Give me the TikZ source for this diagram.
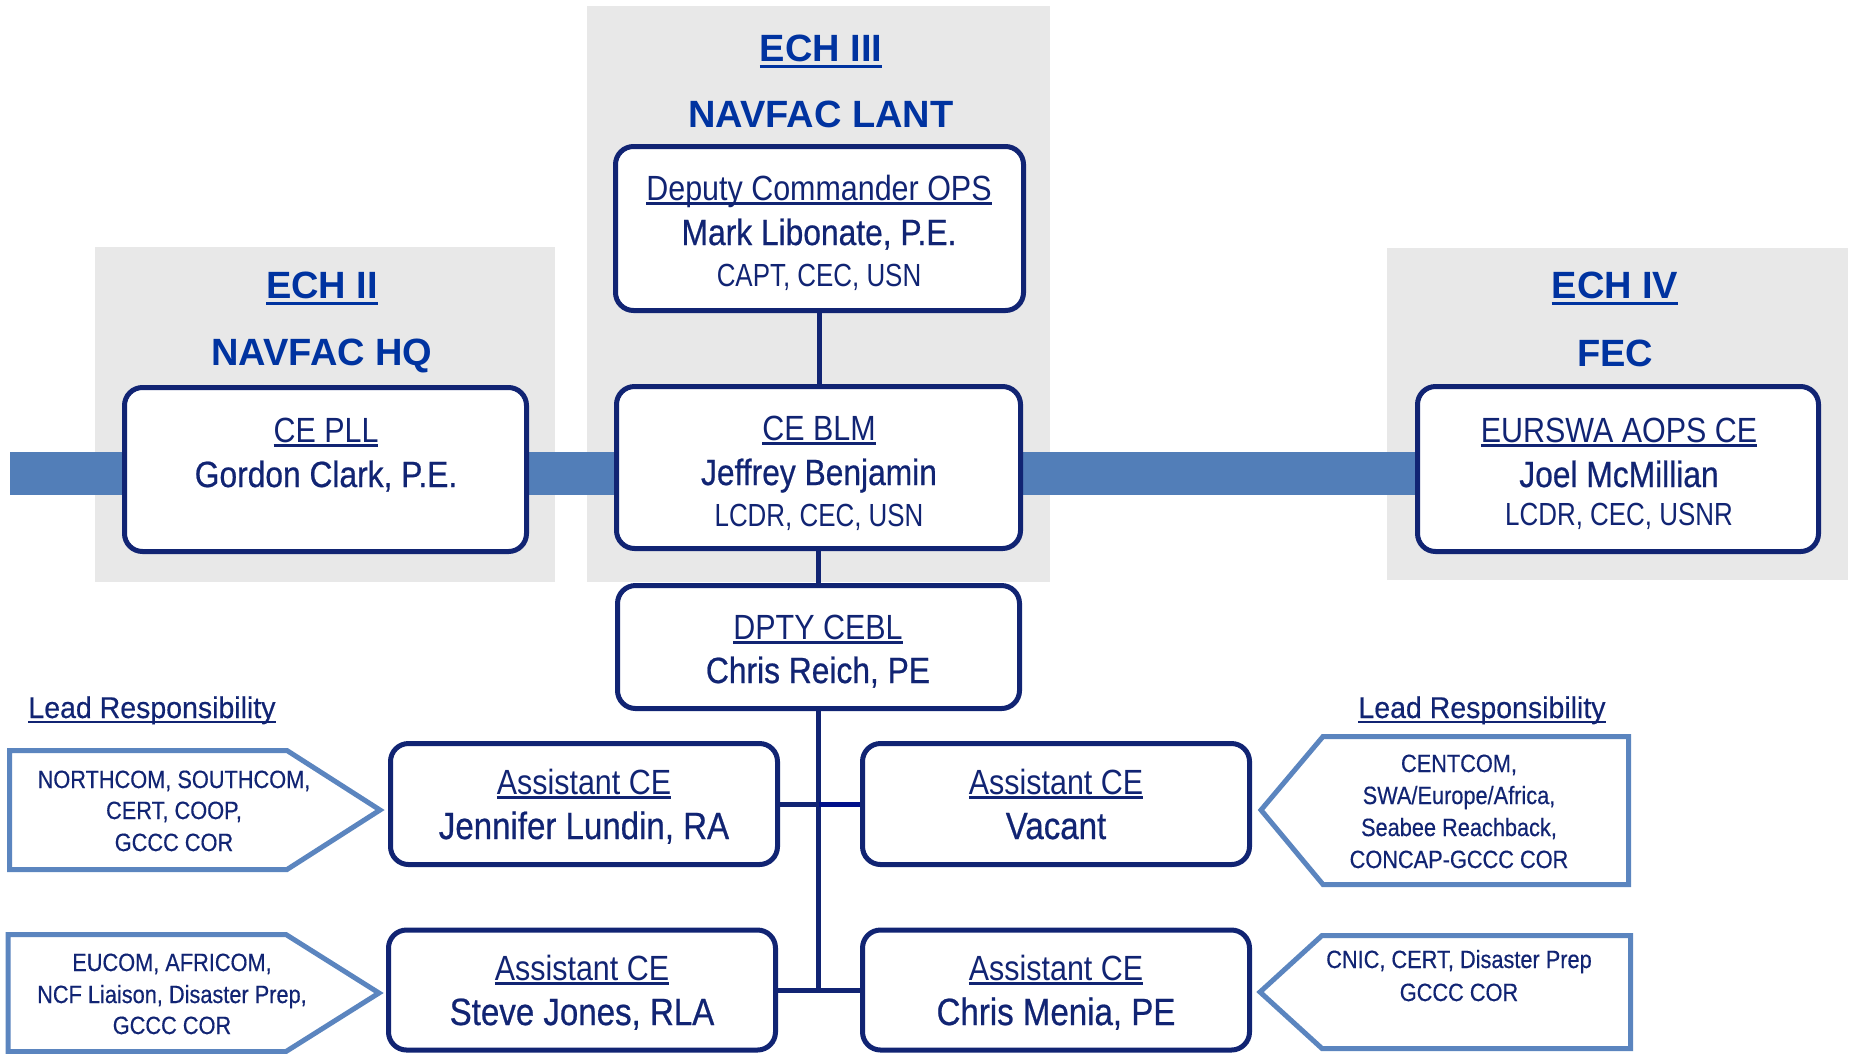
\documentclass[tikz,border=0pt]{standalone}
\usepackage{fontspec}
\setmainfont{Liberation Sans}
\newfontfamily\lightf[FakeStretch=0.87]{Liberation Sans}
\newfontfamily\rankf[FakeStretch=0.81]{Liberation Sans}
\newfontfamily\namef[FakeStretch=0.87,FakeBold=0.6]{Liberation Sans}
\newfontfamily\ptf[FakeStretch=0.87,FakeBold=0.4]{Liberation Sans}
\newfontfamily\leadf[FakeStretch=0.95,FakeBold=0.4]{Liberation Sans}
\usetikzlibrary{backgrounds}
\definecolor{navy}{HTML}{112473}
\definecolor{headblue}{HTML}{0033A0}
\definecolor{bandc}{HTML}{527EB8}
\definecolor{pentc}{HTML}{5B85BF}
\definecolor{panelc}{HTML}{E8E8E8}
\definecolor{linkc}{HTML}{00108A}
\newcommand\myul[3]{\setbox0\hbox{#3}\rlap{\rule[-#1]{\wd0}{#2}}\box0}
\begin{document}
\begin{tikzpicture}[x=1pt,y=-1pt,
  panel/.style={fill=panelc,draw=none},
  orgbox/.style={draw=navy,line width=5pt,rounded corners=18pt,fill=white,rectangle,inner sep=0pt},
  band/.style={draw=bandc,line width=43pt},
  conn/.style={draw=navy,line width=5pt},
  pent/.style={draw=pentc,line width=5pt,fill=white,line join=miter},
  lbl/.style={anchor=base,inner sep=0pt,text=navy},
  ttl/.style={lbl,font=\lightf\fontsize{35}{35}\selectfont},
  nm/.style={lbl,font=\namef\fontsize{36.5}{36}\selectfont},
  nmb/.style={lbl,font=\namef\fontsize{38}{38}\selectfont},
  rk/.style={lbl,font=\rankf\fontsize{32}{32}\selectfont},
  hd/.style={anchor=base,inner sep=0pt,text=headblue,font=\bfseries\fontsize{38}{38}\selectfont},
  lead/.style={lbl,font=\leadf\fontsize{30}{30}\selectfont},
  ptxt/.style={lbl,font=\ptf\fontsize{25}{25}\selectfont}
]
\useasboundingbox (0,0) rectangle (1851,1053);

% boxes
\node[orgbox,minimum width=408pt,minimum height=164pt] (dep) at (819.5,228.5) {};
\node[orgbox,minimum width=402pt,minimum height=164pt] (pll) at (325.5,469.5) {};
\node[orgbox,minimum width=404pt,minimum height=162pt] (blm) at (818.5,467.5) {};
\node[orgbox,minimum width=401pt,minimum height=165pt] (eur) at (1618,469) {};
\node[orgbox,minimum width=402pt,minimum height=123pt] (dpty) at (818.5,647) {};
\node[orgbox,minimum width=387pt,minimum height=121pt] (jen) at (584,804) {};
\node[orgbox,minimum width=387pt,minimum height=121pt] (vac) at (1056,804) {};
\node[orgbox,minimum width=387pt,minimum height=120pt] (stv) at (582,990) {};
\node[orgbox,minimum width=387pt,minimum height=120pt] (men) at (1056,990) {};

\begin{pgfonlayer}{background}
\fill[panel] (95,247) rectangle (555,582);
\fill[panel] (587,6) rectangle (1050,582);
\fill[panel] (1387,248) rectangle (1848,580);
\coordinate (bandL) at (10,473.5);
\draw[band] (bandL) -- (eur.west |- bandL);
\end{pgfonlayer}

% connectors
\draw[conn] (dep.south) -- (dep.south |- blm.north);
\draw[conn] (blm.south) -- (dpty.north);
\draw[conn] (dpty.south) -- (dpty.south |- stv.east);
\draw[conn] (jen.east) -- (vac.west);
\draw[conn,draw=linkc] (dpty.south |- vac.west) -- (vac.west);
\draw[conn] (stv.east) -- (men.west);

% headings
\node[hd] (h3) at (821,61) {\myul{7pt}{3.5pt}{ECH III}};
\node[hd] (h3b) at (821,127) {NAVFAC LANT};
\node[hd] (h2) at (322,298) {\myul{7pt}{3.5pt}{ECH II}};
\node[hd] (h2b) at (322,365) {NAVFAC HQ};
\node[hd] (h4) at (1615,298) {\myul{7pt}{3.5pt}{ECH IV}};
\node[hd] (h4b) at (1615,366) {FEC};

% box texts
\node[ttl] (dep1) at (819,200) {\myul{5pt}{3pt}{Deputy Commander OPS}};
\node[nm]  (dep2) at (819,245) {Mark Libonate, P.E.};
\node[rk]  (dep3) at (819,286) {CAPT, CEC, USN};

\node[ttl] (pll1) at (326,442) {\myul{5pt}{3pt}{CE PLL}};
\node[nm]  (pll2) at (326,487) {Gordon Clark, P.E.};

\node[ttl] (blm1) at (819,440) {\myul{5pt}{3pt}{CE BLM}};
\node[nm]  (blm2) at (819,485) {Jeffrey Benjamin};
\node[rk]  (blm3) at (819,526) {LCDR, CEC, USN};

\node[ttl] (eur1) at (1619,442) {\myul{5pt}{3pt}{EURSWA AOPS CE}};
\node[nm]  (eur2) at (1619,487) {Joel McMillian};
\node[rk]  (eur3) at (1619,525) {LCDR, CEC, USNR};

\node[ttl] (dpty1) at (818,639) {\myul{5pt}{3pt}{DPTY CEBL}};
\node[nm]  (dpty2) at (818,683) {Chris Reich, PE};

\node[ttl] (jen1) at (584,794) {\myul{5pt}{3pt}{Assistant CE}};
\node[nmb] (jen2) at (584,839) {Jennifer Lundin, RA};
\node[ttl] (vac1) at (1056,794) {\myul{5pt}{3pt}{Assistant CE}};
\node[nmb] (vac2) at (1056,839) {Vacant};
\node[ttl] (stv1) at (582,980) {\myul{5pt}{3pt}{Assistant CE}};
\node[nmb] (stv2) at (582,1025) {Steve Jones, RLA};
\node[ttl] (men1) at (1056,980) {\myul{5pt}{3pt}{Assistant CE}};
\node[nmb] (men2) at (1056,1025) {Chris Menia, PE};

% lead responsibility
\node[lead] (leadL) at (152,718) {\myul{5pt}{2.5pt}{Lead Responsibility}};
\node[lead] (leadR) at (1482,718) {\myul{5pt}{2.5pt}{Lead Responsibility}};

% pentagons
\draw[pent] (9.5,750.5) -- (287,750.5) -- (380,810) -- (287,869.5) -- (9.5,869.5) -- cycle;
\draw[pent] (8,934.5) -- (286,934.5) -- (379,993) -- (286,1051.5) -- (8,1051.5) -- cycle;
\draw[pent] (1261,810) -- (1323,736.5) -- (1628.5,736.5) -- (1628.5,884.5) -- (1323,884.5) -- cycle;
\draw[pent] (1260,992) -- (1322,935.5) -- (1630.5,935.5) -- (1630.5,1048.5) -- (1322,1048.5) -- cycle;

\node[ptxt] (l1a) at (174,788) {NORTHCOM, SOUTHCOM,};
\node[ptxt] (l1b) at (174,819) {CERT, COOP,};
\node[ptxt] (l1c) at (174,851) {GCCC COR};
\node[ptxt] (l2a) at (172,971) {EUCOM, AFRICOM,};
\node[ptxt] (l2b) at (172,1003) {NCF Liaison, Disaster Prep,};
\node[ptxt] (l2c) at (172,1034) {GCCC COR};
\node[ptxt] (r1a) at (1459,772) {CENTCOM,};
\node[ptxt] (r1b) at (1459,804) {SWA/Europe/Africa,};
\node[ptxt] (r1c) at (1459,836) {Seabee Reachback,};
\node[ptxt] (r1d) at (1459,868) {CONCAP-GCCC COR};
\node[ptxt] (r2a) at (1459,968) {CNIC, CERT, Disaster Prep};
\node[ptxt] (r2b) at (1459,1001) {GCCC COR};
\end{tikzpicture}
\end{document}
